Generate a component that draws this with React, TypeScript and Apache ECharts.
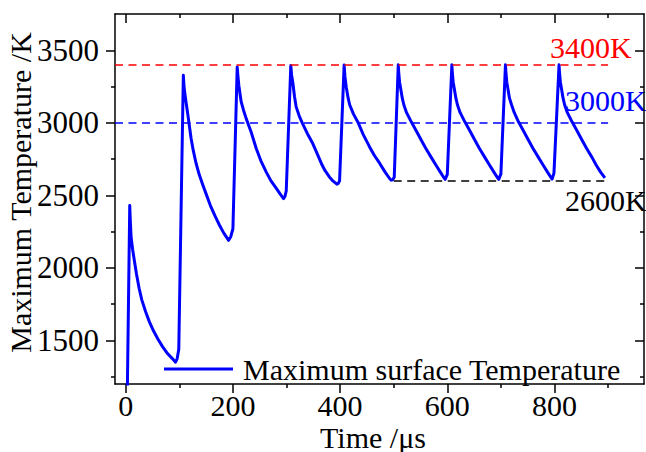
import React, { useEffect, useRef } from "react";
import * as echarts from "echarts";

// Time (μs) and maximum surface temperature (K)
const timeUs = [
  0, 7.5, 8.5, 10, 13, 16, 20, 25, 30, 37, 44, 52, 60, 69, 78, 87, 93, 96, 99,
  107.5, 109, 111.5, 116, 122, 126, 131, 137, 144, 151, 159, 167, 175, 183, 192, 196, 200,
  208, 209.2, 211, 213.6, 215.5, 219.8, 224.8, 234, 243.5, 252, 262, 271, 281, 288, 294.5, 297, 299.5,
  308, 309.5, 312, 315, 318, 324, 330, 339, 349, 357, 365, 372, 380, 387, 394, 396.5, 399,
  407.5, 409, 411.5, 415, 418, 425, 433, 443, 455, 464, 474, 484, 492, 495, 498, 501,
  508.5, 509.5, 511, 513, 516, 519, 524, 533, 542, 550, 560, 570, 579, 587, 594, 596, 600,
  608.5, 609.5, 611, 613, 616, 619, 624, 633, 642, 650, 660, 670, 679, 687, 694, 696, 700,
  708.5, 709.5, 711, 713, 716, 720, 725, 733, 742, 750, 760, 770, 779, 787, 794, 795.5, 799,
  808.5, 809.5, 811, 813, 816, 819, 824, 833, 842, 850, 860, 870, 878, 886, 894,
];
const tempK = [
  300, 2430, 2330, 2214, 2125, 2053, 1960, 1860, 1780, 1700, 1630, 1565, 1510, 1456, 1410, 1375, 1350, 1375, 1440,
  3328, 3240, 3169, 3054, 2892, 2810, 2725, 2645, 2570, 2500, 2420, 2355, 2294, 2240, 2190, 2215, 2270,
  3385, 3328, 3259, 3190, 3144, 3087, 3029, 2937, 2823, 2740, 2662, 2600, 2548, 2510, 2478, 2492, 2530,
  3395, 3330, 3271, 3180, 3110, 3045, 2995, 2925, 2857, 2790, 2720, 2670, 2627, 2598, 2577, 2582, 2600,
  3398, 3320, 3245, 3170, 3123, 3060, 3006, 2920, 2834, 2775, 2720, 2660, 2618, 2605, 2608, 2625,
  3400, 3340, 3280, 3236, 3170, 3123, 3070, 3005, 2945, 2890, 2823, 2762, 2708, 2660, 2620, 2610, 2645,
  3400, 3340, 3280, 3236, 3170, 3123, 3070, 3005, 2945, 2890, 2823, 2762, 2708, 2660, 2620, 2610, 2648,
  3400, 3340, 3280, 3236, 3170, 3123, 3070, 3005, 2945, 2890, 2823, 2762, 2708, 2660, 2620, 2612, 2653,
  3400, 3340, 3280, 3236, 3170, 3123, 3070, 3005, 2945, 2890, 2823, 2762, 2708, 2660, 2620,
];

const xMajorTicks = [0, 200, 400, 600, 800];
const xMinorTicks = [100, 300, 500, 700, 900];
const yMajorTicks = [1500, 2000, 2500, 3000, 3500];
const yMinorTicks = [1250, 1750, 2250, 2750, 3250];

const refLevels = [3400, 3000, 2600];
const refStarts = [-20, -20, 500];
const refEnds = [900, 900, 900];
const refColors = ["#ff0000", "#0000ff", "#000000"];
const refLabels = ["3400K", "3000K", "2600K"];

const FONT = '"Liberation Serif", "Times New Roman", serif';
const X_MIN = -20;
const X_MAX = 967;
const Y_MIN = 1200;
const Y_MAX = 3750;

function axisBase(extra: any) {
  return {
    type: "value",
    splitLine: { show: false },
    axisLine: { show: false, onZero: false, lineStyle: { color: "#000", width: 1.5 } },
    axisLabel: { show: false },
    ...extra,
  };
}

export default function App() {
  const ref = useRef<HTMLDivElement>(null);
  useEffect(() => {
    if (!ref.current) return;
    const chart = echarts.init(ref.current, null, { renderer: "svg" });
    const tickStyle = { color: "#000", width: 1.5 };
    const labelStyle = { fontFamily: FONT, fontSize: 31, color: "#000" };
    const nameStyle = { fontFamily: FONT, fontSize: 30, color: "#000" };
    const plain = (v: number) => String(v);
    const xAxes = [
      axisBase({
        position: "bottom", min: X_MIN, max: X_MAX,
        axisLine: { show: true, onZero: false, lineStyle: { color: "#000", width: 1.5 } },
        axisTick: { show: true, inside: false, length: 9, customValues: xMajorTicks, lineStyle: tickStyle },
        axisLabel: { show: true, customValues: xMajorTicks, margin: 8, formatter: plain, ...labelStyle, fontSize: 30, lineHeight: 26 },
        name: "Time /μs", nameLocation: "middle", nameGap: 40, nameMoveOverlap: false,
        nameTextStyle: { ...nameStyle, lineHeight: 26, padding: [0, 13, 0, 0] },
      }),
      axisBase({
        position: "bottom", min: X_MIN, max: X_MAX,
        axisTick: { show: true, inside: false, length: 4, customValues: xMinorTicks, lineStyle: tickStyle },
      }),
      axisBase({
        position: "top", min: X_MIN, max: X_MAX,
        axisLine: { show: true, onZero: false, lineStyle: { color: "#000", width: 1.5 } },
        axisTick: { show: true, inside: true, length: 9, customValues: xMajorTicks, lineStyle: tickStyle },
      }),
      axisBase({
        position: "top", min: X_MIN, max: X_MAX,
        axisTick: { show: true, inside: true, length: 4, customValues: xMinorTicks, lineStyle: tickStyle },
      }),
    ];
    const yAxes = [
      axisBase({
        position: "left", min: Y_MIN, max: Y_MAX,
        axisLine: { show: true, onZero: false, lineStyle: { color: "#000", width: 1.5 } },
        axisTick: { show: true, inside: false, length: 9, customValues: yMajorTicks, lineStyle: tickStyle },
        axisLabel: { show: true, customValues: yMajorTicks, margin: 16, formatter: plain, ...labelStyle },
        name: "Maximum Temperature /K", nameLocation: "middle", nameGap: 80, nameMoveOverlap: false,
        nameTextStyle: { ...nameStyle, padding: [0, 0, 0, 13] },
      }),
      axisBase({
        position: "left", min: Y_MIN, max: Y_MAX,
        axisTick: { show: true, inside: false, length: 4, customValues: yMinorTicks, lineStyle: tickStyle },
      }),
      axisBase({
        position: "right", min: Y_MIN, max: Y_MAX,
        axisLine: { show: true, onZero: false, lineStyle: { color: "#000", width: 1.5 } },
        axisTick: { show: true, inside: true, length: 9, customValues: yMajorTicks, lineStyle: tickStyle },
      }),
      axisBase({
        position: "right", min: Y_MIN, max: Y_MAX,
        axisTick: { show: true, inside: true, length: 4, customValues: yMinorTicks, lineStyle: tickStyle },
      }),
    ];

    const markData = refLevels.map((lv, i) => [
      { coord: [refStarts[i], lv], lineStyle: { color: refColors[i], type: [8, 5.5], width: 1.5 } },
      { coord: [refEnds[i], lv] },
    ]);

    const labelPos = [
      { x: 550, y: 47 },
      { x: 565, y: 100 },
      { x: 565, y: 200 },
    ];

    chart.setOption({
      animation: false,
      grid: { left: 115, right: 2, top: 14, bottom: 68, containLabel: false, outerBoundsMode: "none" },
      xAxis: xAxes,
      yAxis: yAxes,
      legend: {
        show: true,
        left: 164,
        top: 354,
        padding: 0,
        icon: "rect",
        itemWidth: 69,
        itemHeight: 3,
        itemStyle: { color: "#0000ff" },
        textStyle: { ...nameStyle, padding: [0, 0, 0, 5] },
        data: ["Maximum surface Temperature"],
      },
      series: [
        {
          name: "Maximum surface Temperature",
          type: "line",
          xAxisIndex: 0,
          yAxisIndex: 0,
          symbol: "none",
          clip: true,
          lineStyle: { color: "#0000ff", width: 3, join: "round" },
          itemStyle: { color: "#0000ff" },
          data: timeUs.map((t, i) => [t, tempK[i]]),
          markLine: {
            silent: true,
            symbol: ["none", "none"],
            label: { show: false },
            data: markData,
          },
        },
      ],
      graphic: refLabels.map((txt, i) => ({
        type: "text",
        x: labelPos[i].x,
        y: labelPos[i].y,
        style: {
          text: txt,
          fill: refColors[i],
          font: `30px ${FONT}`,
          textVerticalAlign: "middle",
        },
      })),
    });
    return () => chart.dispose();
  }, []);
  return (
    <div
      ref={ref}
      style={{ position: "fixed", left: 0, top: 0, width: 646, height: 452, background: "#fff" }}
    />
  );
}
